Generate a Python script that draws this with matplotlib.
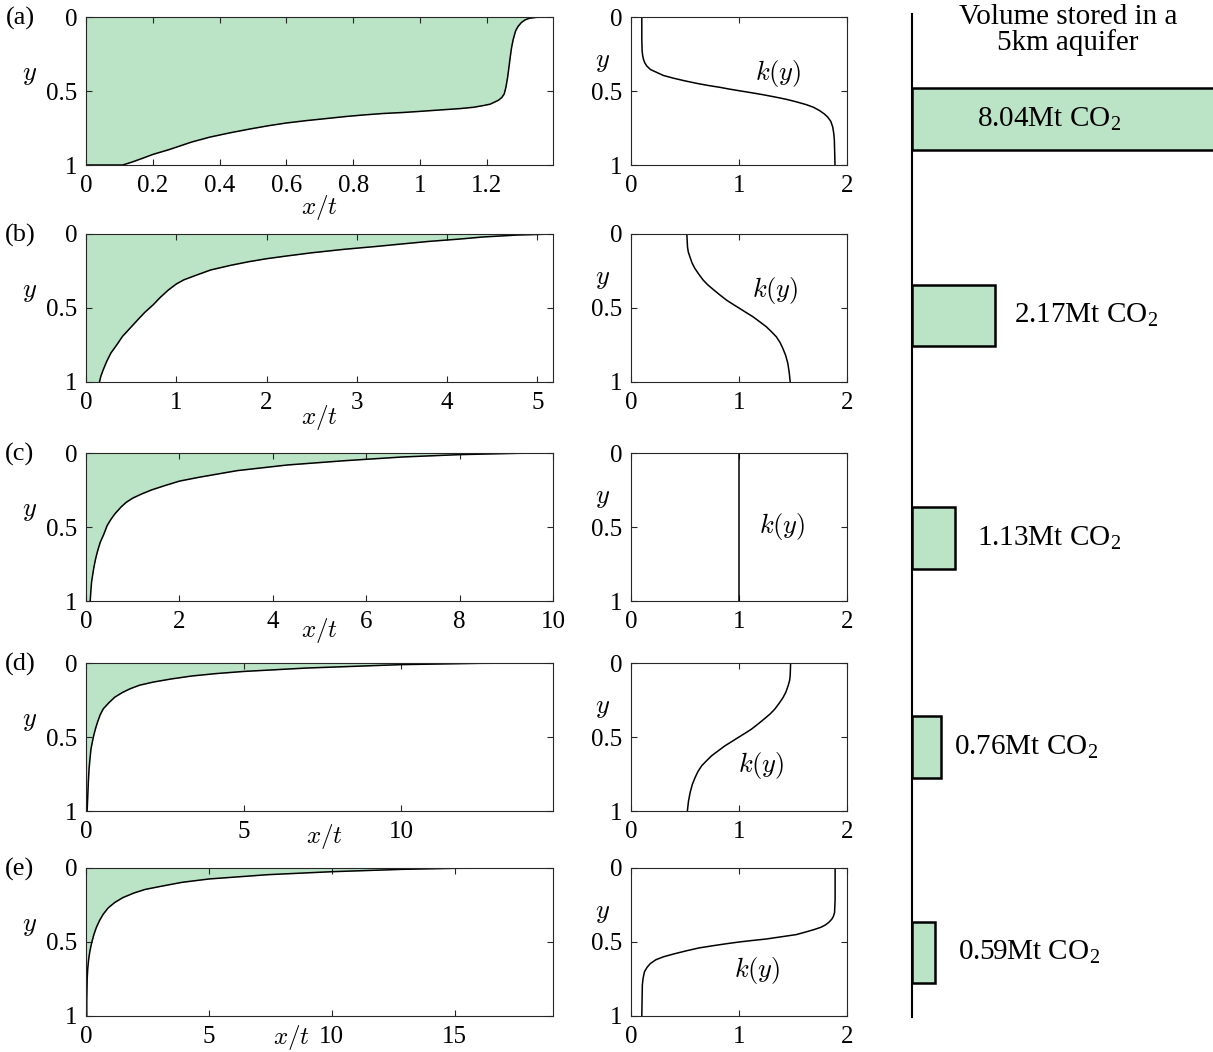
import matplotlib
matplotlib.use("Agg")
import matplotlib.pyplot as plt
import numpy as np

# ── Data ──────────────────────────────────────────────────────────────
PANELS = ["(a)", "(b)", "(c)", "(d)", "(e)"]

# CO2 front position x/t against depth y, one curve per row
FRONT_A_X = [1.398, 1.349, 1.326, 1.314, 1.303, 1.293, 1.286, 1.279, 1.274, 1.27, 1.266,
             1.262, 1.257, 1.252, 1.245, 1.235, 1.222, 1.21, 1.188, 1.16, 1.119, 1.06,
             1.004, 0.95, 0.889, 0.83, 0.775, 0.72, 0.660, 0.60, 0.545, 0.49, 0.430,
             0.37, 0.316, 0.25, 0.201, 0.165, 0.138, 0.11, 0.0]
FRONT_A_Y = [0.0, 0.002, 0.009, 0.02, 0.038, 0.065, 0.094, 0.15, 0.206, 0.27, 0.341,
             0.41, 0.475, 0.52, 0.543, 0.562, 0.576, 0.589, 0.599, 0.610, 0.619, 0.628,
             0.637, 0.645, 0.652, 0.662, 0.673, 0.686, 0.700, 0.716, 0.735, 0.757, 0.783,
             0.812, 0.845, 0.895, 0.928, 0.958, 0.980, 1.0, 1.0]

FRONT_B_X = [5.174, 4.779, 4.4, 4.142, 3.8, 3.505, 3.2, 2.867, 2.5, 2.230, 2.0, 1.805,
             1.6, 1.381, 1.2, 1.083, 1.0, 0.913, 0.82, 0.743, 0.65, 0.573, 0.49, 0.404,
             0.34, 0.276, 0.23, 0.191, 0.165, 0.149]
FRONT_B_Y = [0.0, 0.007, 0.02, 0.034, 0.05, 0.067, 0.085, 0.103, 0.127, 0.148, 0.167,
             0.187, 0.212, 0.243, 0.283, 0.310, 0.338, 0.378, 0.43, 0.479, 0.53, 0.580,
             0.635, 0.692, 0.75, 0.804, 0.86, 0.917, 0.96, 1.0]

FRONT_C_X = [10.0, 9.24, 8.0, 6.77, 5.54, 4.31, 3.24, 2.42, 2.0, 1.68, 1.4, 1.19, 1.0,
             0.862, 0.75, 0.616, 0.53, 0.452, 0.38, 0.304, 0.25, 0.205, 0.17, 0.14,
             0.12, 0.107, 0.09]
FRONT_C_Y = [0.0, 0.002, 0.011, 0.027, 0.052, 0.081, 0.119, 0.164, 0.19, 0.221, 0.25,
             0.277, 0.305, 0.333, 0.365, 0.412, 0.45, 0.491, 0.55, 0.604, 0.66, 0.716,
             0.77, 0.829, 0.87, 0.919, 1.0]

FRONT_D_X = [14.82, 12.5, 10.0, 7.0, 5.01, 4.1, 3.35, 2.7, 2.13, 1.7, 1.40, 1.15, 0.912,
             0.72, 0.547, 0.45, 0.365, 0.3, 0.243, 0.2, 0.158, 0.125, 0.097, 0.075, 0.06,
             0.036]
FRONT_D_Y = [0.0, 0.002, 0.011, 0.034, 0.057, 0.072, 0.088, 0.108, 0.129, 0.15, 0.174,
             0.2, 0.231, 0.27, 0.310, 0.35, 0.400, 0.445, 0.491, 0.535, 0.581, 0.65,
             0.717, 0.8, 0.876, 1.0]

FRONT_E_X = [19.0, 15.0, 12.88, 10.0, 7.41, 5.01, 3.9, 3.04, 2.4, 1.95, 1.5, 1.17, 0.9,
             0.702, 0.55, 0.421, 0.32, 0.234, 0.16, 0.109, 0.07, 0.047, 0.03, 0.03]
FRONT_E_Y = [0.0, 0.002, 0.009, 0.025, 0.045, 0.074, 0.097, 0.124, 0.145, 0.169, 0.2,
             0.233, 0.27, 0.312, 0.355, 0.402, 0.45, 0.503, 0.56, 0.616, 0.68, 0.752,
             0.9, 1.0]

# permeability profiles k(y)
K_A = [0.10, 0.10, 0.103, 0.108, 0.115, 0.128, 0.145, 0.18, 0.237, 0.30, 0.391, 0.49,
       0.606, 0.71, 0.822, 0.91, 1.0, 1.11, 1.222, 1.33, 1.437, 1.53, 1.622, 1.69,
       1.745, 1.79, 1.822, 1.85, 1.868, 1.878, 1.883, 1.889]
K_A_Y = [0.0, 0.15, 0.229, 0.26, 0.285, 0.31, 0.330, 0.355, 0.374, 0.395, 0.413, 0.43,
         0.448, 0.462, 0.475, 0.487, 0.498, 0.511, 0.525, 0.54, 0.556, 0.573, 0.592,
         0.61, 0.632, 0.655, 0.677, 0.705, 0.744, 0.79, 0.834, 1.0]

K_B = [0.517, 0.523, 0.53, 0.545, 0.565, 0.591, 0.628, 0.668, 0.71, 0.760, 0.82, 0.883,
       0.94, 1.0, 1.065, 1.129, 1.19, 1.252, 1.30, 1.345, 1.38, 1.406, 1.432, 1.452,
       1.465, 1.474]
K_B_Y = [0.0, 0.086, 0.12, 0.153, 0.195, 0.232, 0.272, 0.311, 0.343, 0.374, 0.41, 0.446,
         0.473, 0.5, 0.53, 0.559, 0.592, 0.626, 0.66, 0.694, 0.733, 0.773, 0.82, 0.874,
         0.935, 1.0]

K_C = [1.0, 1.0]
K_C_Y = [0.0, 1.0]

K_D = [1.478, 1.474, 1.468, 1.455, 1.435, 1.409, 1.372, 1.332, 1.29, 1.24, 1.18, 1.117,
       1.06, 1.0, 0.935, 0.871, 0.81, 0.748, 0.70, 0.655, 0.62, 0.594, 0.568, 0.548,
       0.532, 0.522]
K_D_Y = [0.0, 0.086, 0.12, 0.153, 0.195, 0.232, 0.272, 0.311, 0.343, 0.374, 0.41, 0.446,
         0.473, 0.5, 0.53, 0.559, 0.592, 0.626, 0.66, 0.694, 0.733, 0.773, 0.82, 0.874,
         0.935, 1.0]

K_E = [1.89, 1.89, 1.885, 1.875, 1.86, 1.835, 1.80, 1.76, 1.70, 1.62, 1.53, 1.39, 1.25,
       1.12, 1.0, 0.88, 0.76, 0.63, 0.51, 0.40, 0.30, 0.23, 0.18, 0.15, 0.125, 0.112,
       0.105, 0.10]
K_E_Y = [0.0, 0.21, 0.30, 0.325, 0.345, 0.365, 0.385, 0.40, 0.415, 0.432, 0.45, 0.465,
         0.48, 0.49, 0.50, 0.512, 0.525, 0.54, 0.56, 0.58, 0.60, 0.62, 0.645, 0.67, 0.70,
         0.745, 0.79, 1.0]

# stored volume, Mt CO2
VOLUMES = [8.04, 2.17, 1.13, 0.76, 0.59]

X_TICKS = [
    [0, 0.2, 0.4, 0.6, 0.8, 1.0, 1.2],
    [0, 1, 2, 3, 4, 5],
    [0, 2, 4, 6, 8, 10],
    [0, 5, 10],
    [0, 5, 10, 15],
]

FRONTS = [(FRONT_A_X, FRONT_A_Y), (FRONT_B_X, FRONT_B_Y), (FRONT_C_X, FRONT_C_Y),
          (FRONT_D_X, FRONT_D_Y), (FRONT_E_X, FRONT_E_Y)]
PROFILES = [(K_A, K_A_Y), (K_B, K_B_Y), (K_C, K_C_Y), (K_D, K_D_Y), (K_E, K_E_Y)]

# ── Layout (pixels of a 1213x1052 canvas) ─────────────────────────────
W, H = 1213, 1052
ROW_TOP = [17, 234, 453, 663, 868]
ROW_H = 148
XLABEL_POS = [(0.50, -0.29), (0.50, -0.243), (0.50, -0.196), (0.51, -0.169), (0.44, -0.145)]
KLABEL_POS = [(1.36, 0.38), (1.34, 0.38), (1.40, 0.50), (1.21, 0.69), (1.17, 0.69)]
BAR_Y = [0.1047, 0.3006, 0.5224, 0.7308, 0.9357]   # axes fraction from top
BAR_H = 0.0618
LABEL_X = [1.70, 2.66, 1.70, 1.10, 1.20]

GREEN = "#bbe3c6"
AX_COL = "#262626"

plt.rcParams.update({
    "font.family": ["Liberation Serif", "DejaVu Serif"],
    "font.size": 18,
    "mathtext.fontset": "cm",
    "axes.linewidth": 0.8,
    "axes.edgecolor": AX_COL,
    "xtick.color": AX_COL,
    "ytick.color": AX_COL,
    "xtick.labelcolor": "black",
    "ytick.labelcolor": "black",
})


def px_axes(fig, x0, y0, x1, y1):
    return fig.add_axes([x0 / W, 1 - y1 / H, (x1 - x0) / W, (y1 - y0) / H])


def style_box(ax):
    ax.tick_params(direction="in", length=4, width=0.8, top=True, right=True,
                   labelsize=18)
    ax.tick_params(axis="x", pad=7)
    ax.tick_params(axis="y", pad=6)
    ax.set_ylim(1, 0)
    ax.set_yticks([0, 0.5, 1])
    ax.set_yticklabels(["0", "0.5", "1"])


fig = plt.figure(figsize=(W / 100, H / 100), dpi=100)

for i in range(5):
    top = ROW_TOP[i]
    bot = top + ROW_H

    # front shape
    ax = px_axes(fig, 86, top, 553, bot)
    fx, fy = FRONTS[i]
    fx = np.array(fx)
    fy = np.array(fy)
    ax.fill_betweenx(fy, 0, fx, color=GREEN, lw=0)
    ax.plot(fx, fy, color="black", lw=1.1)
    style_box(ax)
    ax.set_xlim(0, fx.max())
    ax.set_xticks(X_TICKS[i])
    ax.set_xticklabels([f"{t:g}" for t in X_TICKS[i]])
    ax.text(*XLABEL_POS[i], r"$x/t$", transform=ax.transAxes, ha="center",
            va="center", fontsize=18)
    ax.text(-0.122, 0.6, r"$y$", transform=ax.transAxes, ha="center", va="center",
            fontsize=19)
    fig.text(20 / W, 1 - (top + 1) / H, PANELS[i], ha="center", va="center", fontsize=19)

    # permeability profile
    kx = px_axes(fig, 631, top, 847, bot)
    k, ky = PROFILES[i]
    kx.plot(k, ky, color="black", lw=1.1)
    style_box(kx)
    kx.set_xlim(0, 2)
    kx.set_xticks([0, 1, 2])
    kx.text(-0.13, 0.69, r"$y$", transform=kx.transAxes, ha="center", va="center",
            fontsize=19)
    kx.text(*KLABEL_POS[i], r"$k(y)$", ha="center", va="center", fontsize=19)

# volume bars
bx = px_axes(fig, 912, 14, W, 1017)
bx.barh(BAR_Y, VOLUMES, height=BAR_H, left=0, color=GREEN, edgecolor="black",
        linewidth=1.8, align="center")
bx.set_ylim(1, 0)
bx.set_xlim(0, (W - 912) / 38.3)
for sp in ["top", "right", "bottom"]:
    bx.spines[sp].set_visible(False)
bx.spines["left"].set_linewidth(1.5)
bx.spines["left"].set_color("black")
bx.set_xticks([])
bx.set_yticks([])
bx.patch.set_alpha(0)
for v, yb, lx in zip(VOLUMES, BAR_Y, LABEL_X):
    bx.text(lx, yb, f"{v:.2f}Mt CO" + r"$_\mathregular{2}$", ha="left", va="center",
            fontsize=21)

fig.text(1068 / W, 1 - 30 / H, "Volume stored in a\n5km aquifer", ha="center",
         va="center", multialignment="center", linespacing=0.95, fontsize=21)

fig.savefig("out.png", dpi=100)
